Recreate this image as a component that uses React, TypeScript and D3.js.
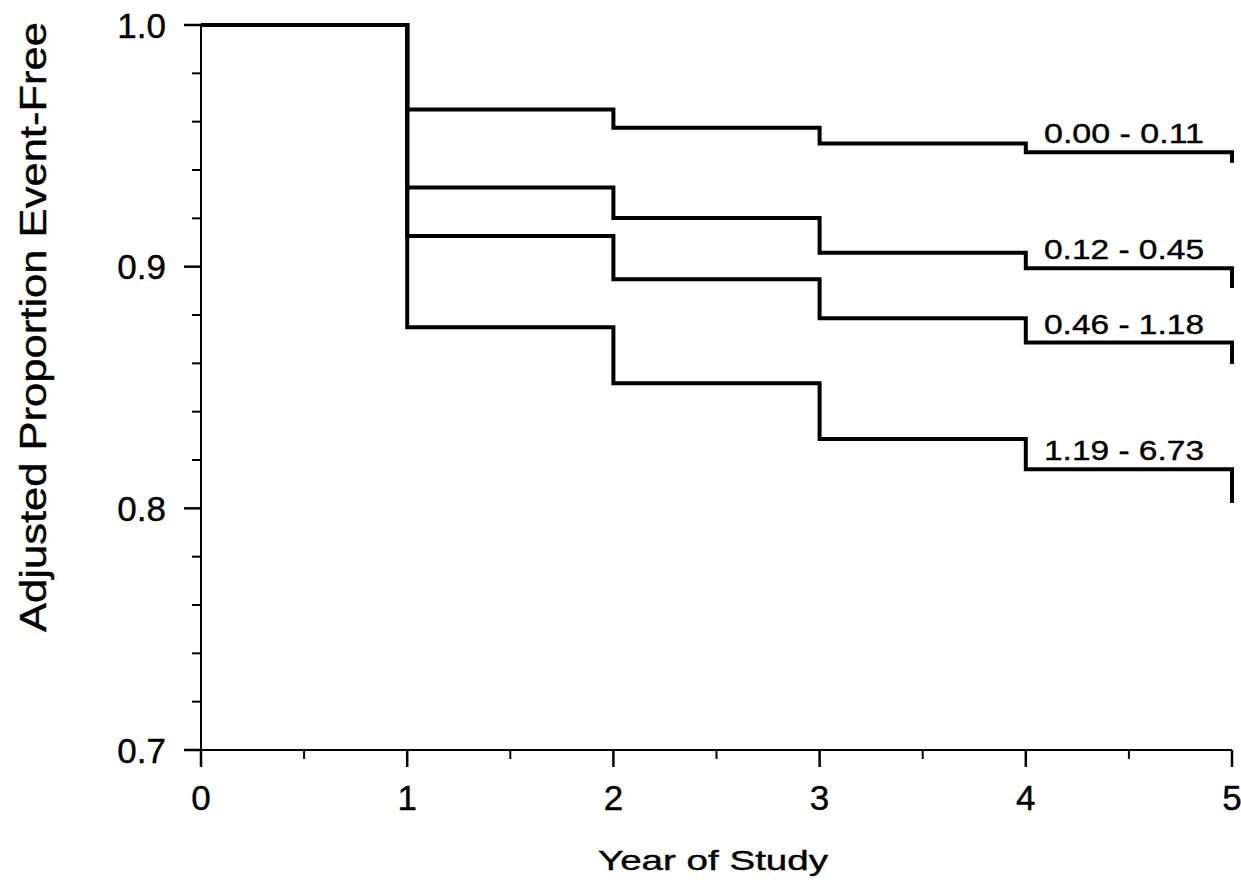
import * as d3 from 'd3'

// years of follow-up and the adjusted event-free proportion of each group
const years = [0, 1, 2, 3, 4, 5]
const groupLabels = ['0.00 - 0.11', '0.12 - 0.45', '0.46 - 1.18', '1.19 - 6.73']
const group1 = [1.0, 0.965, 0.9575, 0.951, 0.9473, 0.943]
const group2 = [1.0, 0.9328, 0.9201, 0.9058, 0.8993, 0.8912]
const group3 = [1.0, 0.9127, 0.8948, 0.8787, 0.8686, 0.8597]
const group4 = [1.0, 0.8749, 0.8518, 0.8287, 0.8162, 0.8022]
const groups = [group1, group2, group3, group4]

const yTicks = [0.7, 0.8, 0.9, 1.0]
const xTicks = [0, 1, 2, 3, 4, 5]

const W = 1241
const H = 883
const FONT = "'Liberation Sans', Arial, Helvetica, sans-serif"

export default function App() {
  const x = d3.scaleLinear().domain([0, 5]).range([201, 1232])
  const y = d3.scaleLinear().domain([0.7, 1.0]).range([750, 25])

  const line = d3
    .line<number>()
    .x((_, i) => x(years[i]))
    .y((d) => y(d))
    .curve(d3.curveStepAfter)

  // minor ticks every 0.02 on y, every half year on x
  const minorY = d3.range(0.7, 1.0001, 0.02).filter((t) => !yTicks.some((m) => Math.abs(m - t) < 1e-6))
  const minorX = d3.range(0.5, 5, 1)

  return (
    <svg
      width={W}
      height={H}
      style={{ position: 'absolute', left: 0, top: 0, background: '#fff' }}
      fontFamily={FONT}
      stroke="none"
    >
      {/* axes */}
      <line x1={x(0)} x2={x(0)} y1={y(1.0)} y2={y(0.7)} stroke="#000" strokeWidth={2} />
      <line x1={x(0) - 17} x2={x(5)} y1={y(0.7)} y2={y(0.7)} stroke="#000" strokeWidth={2} />

      {yTicks.map((t) => (
        <g key={'yt' + t}>
          <line x1={x(0) - 17} x2={x(0)} y1={y(t)} y2={y(t)} stroke="#000" strokeWidth={2.5} />
          <text x={x(0) - 35} y={y(t)} dy="0.36em" textAnchor="end" fontSize={35} stroke="#000" strokeWidth={0.4}>
            {t.toFixed(1)}
          </text>
        </g>
      ))}
      {minorY.map((t) => (
        <line key={'ym' + t} x1={x(0) - 9} x2={x(0)} y1={y(t)} y2={y(t)} stroke="#000" strokeWidth={2} />
      ))}

      {xTicks.map((t) => (
        <g key={'xt' + t}>
          <line x1={x(t)} x2={x(t)} y1={y(0.7)} y2={y(0.7) + 17} stroke="#000" strokeWidth={2.5} />
          <text x={x(t)} y={810} textAnchor="middle" fontSize={35} stroke="#000" strokeWidth={0.4}>
            {t}
          </text>
        </g>
      ))}
      {minorX.map((t) => (
        <line key={'xm' + t} x1={x(t)} x2={x(t)} y1={y(0.7)} y2={y(0.7) + 9} stroke="#000" strokeWidth={2} />
      ))}

      {/* survival curves */}
      {groups.map((g, i) => (
        <path key={'g' + i} d={line(g) || ''} fill="none" stroke="#000" strokeWidth={4} strokeLinejoin="miter" />
      ))}

      {/* group labels */}
      {groups.map((g, i) => (
        <text
          key={'lab' + i}
          x={x(5) - 28}
          y={y(g[4]) - 9}
          textAnchor="end"
          fontSize={28}
          textLength={160}
          lengthAdjust="spacingAndGlyphs"
          stroke="#000"
          strokeWidth={0.4}
        >
          {groupLabels[i]}
        </text>
      ))}

      {/* axis titles */}
      <text
        x={713}
        y={870}
        textAnchor="middle"
        fontSize={28}
        textLength={230}
        lengthAdjust="spacingAndGlyphs"
        stroke="#000"
        strokeWidth={0.4}
      >
        Year of Study
      </text>
      <text
        transform="translate(46,327) rotate(-90)"
        textAnchor="middle"
        fontSize={37}
        textLength={610}
        lengthAdjust="spacingAndGlyphs"
        stroke="#000"
        strokeWidth={0.4}
      >
        Adjusted Proportion Event-Free
      </text>
    </svg>
  )
}
